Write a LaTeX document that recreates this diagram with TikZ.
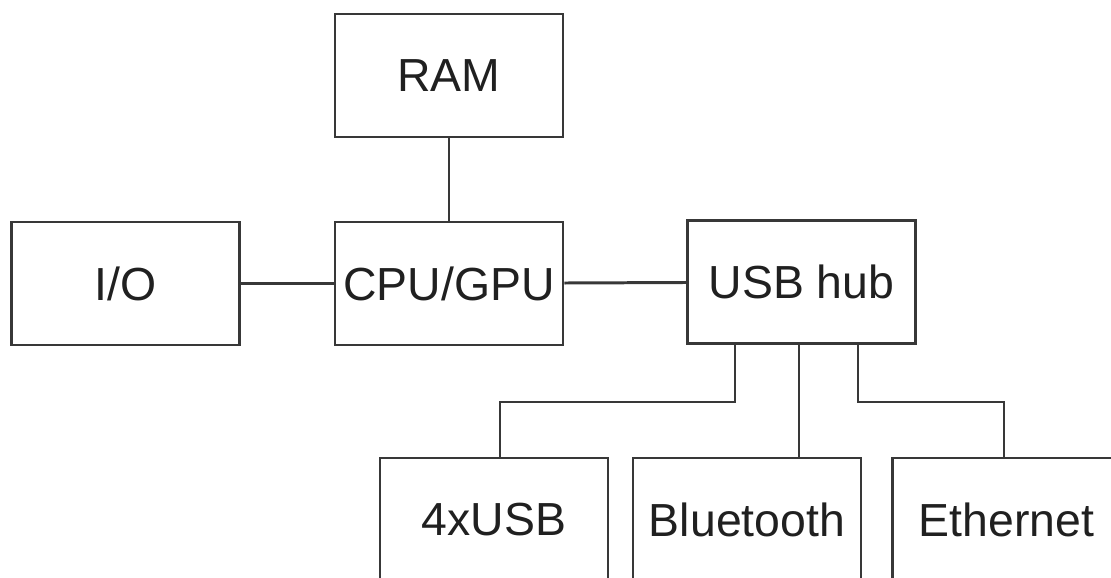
\documentclass[tikz,border=0pt]{standalone}
\usepackage{fontspec}
\setmainfont{Liberation Sans}
\usepackage{tikz}
\usetikzlibrary{positioning}
\definecolor{linegray}{HTML}{383838}
\definecolor{textgray}{HTML}{202020}

\begin{document}
\begin{tikzpicture}[
    auto,
    node distance=2cm,
    font=\fontsize{13.2}{15}\selectfont,
    block/.style={
		rectangle,
		draw=linegray,
		line width=0.85pt,
		text=textgray,
		text centered,
		minimum width=2.28cm,
		minimum height=1.23cm,
		inner sep=0pt,
		fill=white
	},
	wire/.style={
		draw=linegray,
		line width=0.85pt
	}
  ]
    % frame of the picture
  \useasboundingbox (-4.49,-2.935) rectangle (6.62,2.835);
  \clip (-4.49,-2.935) rectangle (6.62,2.835);

    % We start by placing the blocks
  \node [block] (cpu) {CPU/GPU};
  \node [block, above of=cpu, node distance=2.08cm] (ram) {RAM};
  \node [block, left of=cpu, node distance=3.235cm] (io) {I/O};
  \node [block, right of=cpu, node distance=3.525cm, yshift=0.015cm] (hub) {USB hub};

  \node [block, below of=hub, node distance=2.375cm, xshift=-3.075cm] (usb) {4xUSB};
  \node [block, below of=hub, node distance=2.375cm, xshift=-0.545cm] (bt) {Bluetooth};
  \node [block, below of=hub, node distance=2.375cm, xshift=2.05cm] (eth) {Ethernet};

    % then the wires
  \draw [wire] (ram) -- (cpu);
  \draw [wire] (io) -- (cpu);
  \draw [wire] (cpu) -- (hub);
  \draw [wire] ([xshift=-0.665cm]hub.south) |- ++(0,-0.57) -| ([xshift=0.06cm]usb.north);
  \draw [wire] ([xshift=-0.025cm]hub.south) -- ([xshift=-0.025cm]hub.south |- bt.north);
  \draw [wire] ([xshift=0.565cm]hub.south) |- ++(0,-0.57) -| ([xshift=-0.025cm]eth.north);

\end{tikzpicture}
\end{document}
